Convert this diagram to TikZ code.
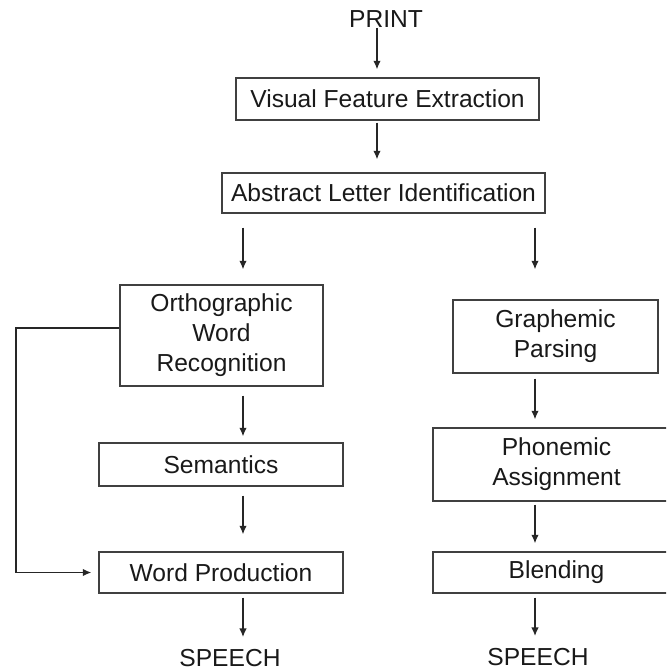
\documentclass[tikz,border=0pt]{standalone}
\usepackage{fontspec}
\setmainfont{Liberation Sans}
\usetikzlibrary{arrows.meta, calc}

\begin{document}
\begin{tikzpicture}[
        x=0.02cm, y=-0.02cm,
        stage/.style={rectangle, draw=black!75, line width=0.8pt, inner sep=0pt, align=center, font=\fontsize{14}{17}\selectfont, text=black!90},
        term/.style={inner sep=0pt, font=\fontsize{14}{17}\selectfont, text=black!90},
        arrow/.style={-{Latex[length=1.7mm, width=1.5mm]}, line width=0.7pt, draw=black!85}
    ]
        \useasboundingbox (0,0) rectangle (666,672);
        \clip (0,0) rectangle (666,672);

        % --- COLUMNS ---
        \coordinate (ccol) at (377, 0);
        \coordinate (lcol) at (243, 0);
        \coordinate (rcol) at (535, 0);
        \coordinate (fbk) at (16, 0);

        % --- TOP ---
        \node[term] (print) at (386, 19) {PRINT};
        \node[stage, minimum width=6.06cm, minimum height=0.84cm] (vfe) at (387.5, 99) {Visual Feature Extraction};
        \node[stage, minimum width=6.46cm, minimum height=0.80cm] (ali) at (383.5, 193) {Abstract Letter Identification};

        % --- LEXICAL ROUTE ---
        \node[stage, minimum width=4.06cm, minimum height=2.02cm] (ortho) at (221.5, 335.5) {Orthographic\\Word\\Recognition};
        \node[stage, minimum width=4.88cm, minimum height=0.86cm] (sem) at (221, 464.5) {Semantics};
        \node[stage, minimum width=4.88cm, minimum height=0.82cm] (wordprod) at (221, 572.5) {Word Production};
        \node[term] (speechL) at (230, 658) {SPEECH};

        % --- SUBLEXICAL ROUTE ---
        \node[stage, minimum width=4.10cm, minimum height=1.46cm] (graph) at (555.5, 336.5) {Graphemic\\Parsing};
        \node[stage, minimum width=4.94cm, minimum height=1.46cm] (phon) at (556.5, 464.5) {Phonemic\\Assignment};
        \node[stage, minimum width=4.94cm, minimum height=0.82cm] (blend) at (556.5, 572.5) {Blending};
        \node[term] (speechR) at (538, 657) {SPEECH};

        % --- CONNECTIONS ---
        \draw[arrow, shorten >=0.16cm] (print.south -| ccol) -- (vfe.north -| ccol);
        \draw[arrow, shorten <=0.04cm, shorten >=0.26cm] (vfe.south -| ccol) -- (ali.north -| ccol);
        \draw[arrow, shorten <=0.28cm, shorten >=0.30cm] (ali.south -| lcol) -- (ortho.north -| lcol);
        \draw[arrow, shorten <=0.28cm, shorten >=0.60cm] (ali.south -| rcol) -- (graph.north -| rcol);

        \draw[arrow, shorten <=0.18cm, shorten >=0.12cm] (ortho.south -| lcol) -- (sem.north -| lcol);
        \draw[arrow, shorten <=0.18cm, shorten >=0.34cm] (sem.south -| lcol) -- (wordprod.north -| lcol);
        \draw[arrow, shorten <=0.08cm, shorten >=0.24cm] (wordprod.south -| lcol) -- (speechL.north -| lcol);
        \draw[arrow, line width=0.8pt, shorten >=0.14cm] ([yshift=0.15cm]ortho.west) -| (fbk |- wordprod.west) -- (wordprod.west);

        \draw[arrow, shorten <=0.10cm, shorten >=0.16cm] (graph.south -| rcol) -- (phon.north -| rcol);
        \draw[arrow, shorten <=0.06cm, shorten >=0.16cm] (phon.south -| rcol) -- (blend.north -| rcol);
        \draw[arrow, shorten <=0.08cm, shorten >=0.24cm] (blend.south -| rcol) -- (speechR.north -| rcol);

    \end{tikzpicture}
\end{document}
